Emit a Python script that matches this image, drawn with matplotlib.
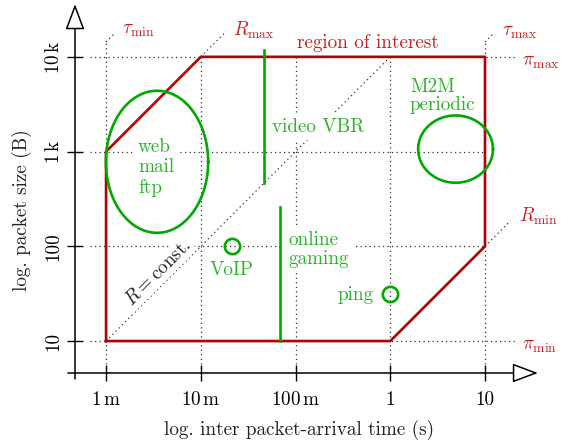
import numpy as np
import matplotlib
matplotlib.use('Agg')
import matplotlib.pyplot as plt
from matplotlib.ticker import NullLocator

# ---------------- data ----------------
x_ticks = [1e-3, 1e-2, 1e-1, 1, 10]
x_tick_labels = [r'$1\,\mathrm{m}$', r'$10\,\mathrm{m}$', r'$100\,\mathrm{m}$', '1', '10']
y_ticks = [10, 100, 1e3, 1e4]
y_tick_labels = ['10', '100', r'$1\,\mathrm{k}$', r'$10\,\mathrm{k}$']

tau_min, tau_max = 1e-3, 10.0
pi_min, pi_max = 10.0, 1e4

# region of interest polygon (inter-arrival time, packet size)
region_t = [1e-3, 1e-3, 1e-2, 10, 10, 1, 1e-3]
region_b = [10, 1e3, 1e4, 1e4, 100, 10, 10]

# application clouds (ellipses in log space)
ell_names = ['web', 'M2M']
ell_center_t = [3.45e-3, 4.89]
ell_center_b = [780, 1062]
ell_width_dec = [1.08, 0.79]
ell_height_dec = [1.50, 0.71]

# vertical ranges
vr_names = ['video VBR', 'online gaming']
vr_t = [0.0466, 0.0686]
vr_lo = [471, 10]
vr_hi = [11940, 262]

# single points
pt_names = ['VoIP', 'ping']
pt_t = [0.0214, 1.0]
pt_b = [100, 31.1]

RED = '#b40000'
RED_TXT = '#c42424'
GREEN = '#00a800'
GREEN_TXT = '#28b428'
DOT = '#333333'
FS = 13.8

plt.rcParams['font.family'] = ['cmr10', 'DejaVu Serif']
plt.rcParams['mathtext.fontset'] = 'cm'
plt.rcParams['axes.unicode_minus'] = False
plt.rcParams['axes.formatter.use_mathtext'] = True

fig = plt.figure(figsize=(5.61, 4.47), dpi=100)
ax = fig.add_axes([75/561, 74/447, 470/561, 370/447])
ax.set_xscale('log')
ax.set_yscale('log')
ax.set_xlim(4.7e-4, 43)
ax.set_ylim(4.6, 3.7e4)
for s in ax.spines.values():
    s.set_visible(False)

ax.set_xticks(x_ticks)
ax.set_xticklabels(x_tick_labels)
ax.set_yticks(y_ticks)
ax.set_yticklabels(y_tick_labels, rotation=90, va='center')
ax.xaxis.set_minor_locator(NullLocator())
ax.yaxis.set_minor_locator(NullLocator())
ax.tick_params(axis='both', direction='inout', length=11.5, width=1.0,
               labelsize=FS, color='black')
ax.tick_params(axis='x', pad=7)
ax.tick_params(axis='y', pad=3)

# axis arrows
arrow = dict(arrowstyle='-|>,head_length=0.8,head_width=0.3', mutation_scale=20,
             fc='white', ec='black', lw=1.1, shrinkA=0, shrinkB=0)
ax.annotate('', xy=(0.985, 0), xytext=(-0.015, 0), xycoords='axes fraction',
            arrowprops=arrow, annotation_clip=False)
ax.annotate('', xy=(0, 0.997), xytext=(0, -0.016), xycoords='axes fraction',
            arrowprops=arrow, annotation_clip=False)

# dotted guide lines
dot_kw = dict(color=DOT, lw=0.9, ls=(0, (1, 2.6)), zorder=1)
x_left = 6.8e-4
x_right = 20.7
y_bot = 4.6
y_tau = 10**4.157
ext = 10**0.27
small = 10**0.09
# verticals
ax.plot([tau_min, tau_min], [y_bot, y_tau], **dot_kw)
ax.plot([tau_min, tau_min*small], [y_tau, y_tau*small], **dot_kw)
ax.plot([tau_max, tau_max], [y_bot, y_tau], **dot_kw)
ax.plot([tau_max, tau_max*small], [y_tau, y_tau*small], **dot_kw)
for t in [1e-2, 1e-1, 1]:
    ax.plot([t, t], [y_bot, pi_max], **dot_kw)
# horizontals
ax.plot([x_left, x_right], [pi_max, pi_max], **dot_kw)
ax.plot([x_left, x_right], [pi_min, pi_min], **dot_kw)
ax.plot([x_left, tau_max], [1e3, 1e3], **dot_kw)
ax.plot([x_left, tau_max], [100, 100], **dot_kw)
# diagonals
ax.plot([1e-3, 1], [10, 1e4], **dot_kw)
ax.plot([1e-2, 1e-2*ext], [1e4, 1e4*ext], **dot_kw)
ax.plot([10, 10*ext], [100, 100*ext], **dot_kw)

# region of interest
ax.plot(region_t, region_b, color=RED, lw=1.9, zorder=3, solid_joinstyle='miter')

# ellipses
th = np.linspace(0, 2*np.pi, 300)
for ct, cb, w, h in zip(ell_center_t, ell_center_b, ell_width_dec, ell_height_dec):
    u = np.log10(ct) + w/2*np.cos(th)
    v = np.log10(cb) + h/2*np.sin(th)
    ax.plot(10**u, 10**v, color=GREEN, lw=1.9, zorder=4)

# vertical ranges
for t, lo, hi in zip(vr_t, vr_lo, vr_hi):
    ax.plot([t, t], [lo, hi], color=GREEN, lw=1.9, zorder=4)

# points
ax.plot(pt_t, pt_b, ls='none', marker='o', ms=11, mfc='none', mec=GREEN,
        mew=1.9, zorder=4)

# text
wb = dict(boxstyle='square,pad=0.25', fc='white', ec='none')
ax.text(2.18e-3, 678, 'web\nmail\nftp', color=GREEN_TXT, fontsize=FS,
        ha='left', va='center', linespacing=1.15, bbox=wb, zorder=2)
ax.text(0.0565, 1837, 'video VBR', color=GREEN_TXT, fontsize=FS,
        ha='left', va='center', bbox=wb, zorder=2)
ax.text(0.0834, 93, 'online\ngaming', color=GREEN_TXT, fontsize=FS,
        ha='left', va='center', linespacing=1.1, bbox=wb, zorder=2)
ax.text(0.0214, 55.8, 'VoIP', color=GREEN_TXT, fontsize=FS,
        ha='center', va='center', zorder=2)
ax.text(0.674, 30.4, 'ping', color=GREEN_TXT, fontsize=FS,
        ha='right', va='center', zorder=2)
ax.text(1.61, 3810, 'M2M\nperiodic', color=GREEN_TXT, fontsize=FS,
        ha='left', va='center', linespacing=1.0, zorder=2)
ax.text(3.54e-3, 52.2, r'$R = \mathrm{const.}$', color='#222222', fontsize=FS,
        ha='center', va='center', rotation=45, rotation_mode='anchor',
        bbox=dict(boxstyle='square,pad=0.1', fc='white', ec='none'), zorder=2)

ax.text(0.575, 14000, 'region of interest', color=RED_TXT, fontsize=FS,
        ha='center', va='center', zorder=2)
ax.text(1.48e-3, 19200, r'$\tau_{\min}$', color=RED_TXT, fontsize=FS,
        ha='left', va='center')
ax.text(0.0219, 19200, r'$R_{\max}$', color=RED_TXT, fontsize=FS,
        ha='left', va='center')
ax.text(15.1, 18300, r'$\tau_{\max}$', color=RED_TXT, fontsize=FS,
        ha='left', va='center')
ax.text(24.5, 8830, r'$\pi_{\max}$', color=RED_TXT, fontsize=FS,
        ha='left', va='center')
ax.text(22.9, 209, r'$R_{\min}$', color=RED_TXT, fontsize=FS,
        ha='left', va='center')
ax.text(24.5, 8.85, r'$\pi_{\min}$', color=RED_TXT, fontsize=FS,
        ha='left', va='center')

fig.text(299/561, 1-430/447, 'log. inter packet-arrival time (s)', fontsize=FS,
         ha='center', va='center', color='#222222')
fig.text(22/561, 1-210/447, 'log. packet size (B)', fontsize=FS,
         ha='center', va='center', rotation=90, color='#222222')

fig.savefig('out.png', dpi=100)
